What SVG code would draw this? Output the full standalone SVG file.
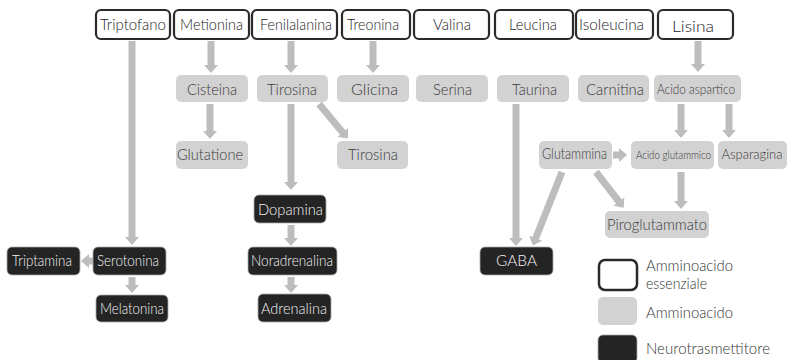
<svg xmlns="http://www.w3.org/2000/svg" width="789" height="360" viewBox="0 0 789 360">
<style>
text{font-family:Lato,"Open Sans","Liberation Sans",sans-serif;font-weight:300;font-size:16px;text-anchor:middle}
.ess rect{fill:#fff;stroke:#2a2a2a;stroke-width:2.2}
.ess text{fill:#222}
.aa rect{fill:#d2d2d2}
.aa text{fill:#3a3a3a}
.nt rect{fill:#242424;stroke:#aaa;stroke-width:0.8}
.nt text{fill:#f2f2f2}
.lg{text-anchor:start;fill:#333}
#connectors line{stroke:#bdbdbd;stroke-width:7;marker-end:url(#ah)}
</style>
<defs>
<marker id="ah" viewBox="0 0 8 14" refX="2" refY="7" markerUnits="userSpaceOnUse" markerWidth="8" markerHeight="14" orient="auto">
<path d="M0,0 L8,7 L0,14 z" fill="#bdbdbd"/>
</marker>
</defs>
<rect width="789" height="360" fill="#fff"/>
<g id="connectors">
<line x1="132" y1="41" x2="132" y2="239"/>
<line x1="211" y1="41" x2="211" y2="67"/>
<line x1="291" y1="41" x2="291" y2="67"/>
<line x1="373" y1="41" x2="373" y2="67"/>
<line x1="698" y1="41" x2="698" y2="66"/>
<line x1="210" y1="104" x2="210" y2="133"/>
<line x1="291" y1="104" x2="291" y2="184"/>
<line x1="319" y1="104" x2="344" y2="134"/>
<line x1="516" y1="104" x2="516" y2="240"/>
<line x1="681" y1="104" x2="681" y2="132"/>
<line x1="729" y1="104" x2="729" y2="132"/>
<line x1="613" y1="155" x2="621" y2="155"/>
<line x1="681" y1="172" x2="681" y2="203"/>
<line x1="596" y1="172" x2="620" y2="203"/>
<line x1="562" y1="172" x2="535" y2="240"/>
<line x1="93" y1="261" x2="87" y2="261"/>
<line x1="132" y1="277" x2="132" y2="287"/>
<line x1="291" y1="225" x2="291" y2="240"/>
<line x1="291" y1="277" x2="291" y2="287"/>
</g>
<g id="triptofano" class="ess"><rect x="96" y="10" width="74" height="29" rx="5"/><text x="133" y="30" textLength="66" lengthAdjust="spacingAndGlyphs">Triptofano</text></g>
<g id="metionina" class="ess"><rect x="174" y="10" width="75" height="29" rx="5"/><text x="211.5" y="30" textLength="63" lengthAdjust="spacingAndGlyphs">Metionina</text></g>
<g id="fenilalanina" class="ess"><rect x="252" y="10" width="85" height="29" rx="5"/><text x="296" y="30" textLength="72" lengthAdjust="spacingAndGlyphs">Fenilalanina</text></g>
<g id="treonina" class="ess"><rect x="342" y="10" width="68" height="29" rx="5"/><text x="373" y="30" textLength="52" lengthAdjust="spacingAndGlyphs">Treonina</text></g>
<g id="valina" class="ess"><rect x="414" y="10" width="75" height="29" rx="5"/><text x="452" y="30" textLength="38" lengthAdjust="spacingAndGlyphs">Valina</text></g>
<g id="leucina" class="ess"><rect x="495" y="10" width="78" height="29" rx="5"/><text x="533" y="30" textLength="48" lengthAdjust="spacingAndGlyphs">Leucina</text></g>
<g id="isoleucina" class="ess"><rect x="576" y="10" width="77" height="29" rx="5"/><text x="611.5" y="30" textLength="65" lengthAdjust="spacingAndGlyphs">Isoleucina</text></g>
<g id="lisina" class="ess"><rect x="658" y="10" width="75" height="29" rx="5"/><text x="693" y="32" textLength="42" lengthAdjust="spacingAndGlyphs">Lisina</text></g>
<g id="cisteina" class="aa"><rect x="176" y="75" width="72" height="27" rx="5"/><text x="212" y="95" textLength="50" lengthAdjust="spacingAndGlyphs">Cisteina</text></g>
<g id="tirosina" class="aa"><rect x="257" y="75" width="71" height="27" rx="5"/><text x="292" y="95" textLength="50" lengthAdjust="spacingAndGlyphs">Tirosina</text></g>
<g id="glicina" class="aa"><rect x="337" y="75" width="72" height="27" rx="5"/><text x="374.5" y="95" textLength="47" lengthAdjust="spacingAndGlyphs">Glicina</text></g>
<g id="serina" class="aa"><rect x="416" y="75" width="72" height="27" rx="5"/><text x="452.5" y="95" textLength="39" lengthAdjust="spacingAndGlyphs">Serina</text></g>
<g id="taurina" class="aa"><rect x="497" y="75" width="72" height="27" rx="5"/><text x="534.5" y="95" textLength="45" lengthAdjust="spacingAndGlyphs">Taurina</text></g>
<g id="carnitina" class="aa"><rect x="578" y="75" width="71" height="27" rx="5"/><text x="615" y="95" textLength="58" lengthAdjust="spacingAndGlyphs">Carnitina</text></g>
<g id="acido-aspartico" class="aa"><rect x="654" y="75" width="87" height="27" rx="5"/><text x="696" y="94" style="font-size:14px" textLength="78" lengthAdjust="spacingAndGlyphs">Acido aspartico</text></g>
<g id="glutatione" class="aa"><rect x="176" y="141" width="72" height="28" rx="5"/><text x="210" y="160" textLength="66" lengthAdjust="spacingAndGlyphs">Glutatione</text></g>
<g id="tirosina-2" class="aa"><rect x="337" y="141" width="71" height="28" rx="5"/><text x="373" y="160" textLength="50" lengthAdjust="spacingAndGlyphs">Tirosina</text></g>
<g id="glutammina" class="aa"><rect x="539" y="141" width="73" height="28" rx="5"/><text x="574.5" y="159" textLength="65" lengthAdjust="spacingAndGlyphs">Glutammina</text></g>
<g id="acido-glutammico" class="aa"><rect x="631" y="141" width="83" height="28" rx="5"/><text x="673.5" y="159" style="font-size:12px" textLength="75" lengthAdjust="spacingAndGlyphs">Acido glutammico</text></g>
<g id="asparagina" class="aa"><rect x="718" y="141" width="69" height="28" rx="5"/><text x="752" y="159" style="font-size:14px" textLength="61" lengthAdjust="spacingAndGlyphs">Asparagina</text></g>
<g id="piroglutammato" class="aa"><rect x="605" y="211" width="104" height="27" rx="5"/><text x="657" y="230" textLength="100" lengthAdjust="spacingAndGlyphs">Piroglutammato</text></g>
<g id="dopamina" class="nt"><rect x="254" y="195" width="72" height="28" rx="5"/><text x="290.5" y="215" textLength="65" lengthAdjust="spacingAndGlyphs">Dopamina</text></g>
<g id="noradrenalina" class="nt"><rect x="248" y="247" width="89" height="28" rx="5"/><text x="292" y="266" textLength="82" lengthAdjust="spacingAndGlyphs">Noradrenalina</text></g>
<g id="adrenalina" class="nt"><rect x="258" y="294" width="73" height="28" rx="5"/><text x="294" y="314" textLength="66" lengthAdjust="spacingAndGlyphs">Adrenalina</text></g>
<g id="triptamina" class="nt"><rect x="7" y="247" width="73" height="28" rx="5"/><text x="42" y="266" textLength="60" lengthAdjust="spacingAndGlyphs">Triptamina</text></g>
<g id="serotonina" class="nt"><rect x="93" y="247" width="73" height="28" rx="5"/><text x="128" y="266" textLength="62" lengthAdjust="spacingAndGlyphs">Serotonina</text></g>
<g id="melatonina" class="nt"><rect x="96" y="295" width="72" height="27" rx="5"/><text x="132" y="314" textLength="64" lengthAdjust="spacingAndGlyphs">Melatonina</text></g>
<g id="gaba" class="nt"><rect x="480" y="247" width="73" height="28" rx="5"/><text x="516.5" y="266" textLength="41" lengthAdjust="spacingAndGlyphs">GABA</text></g>
<g id="legend">
<g class="ess"><rect x="599" y="260" width="38" height="30" rx="6" style="stroke-width:2.5"/></g>
<text class="lg" x="646" y="271" textLength="87" lengthAdjust="spacingAndGlyphs">Amminoacido</text>
<text class="lg" x="646" y="289" textLength="61" lengthAdjust="spacingAndGlyphs">essenziale</text>
<g class="aa"><rect x="598" y="297" width="39" height="28" rx="5"/></g>
<text class="lg" x="646" y="318" textLength="87" lengthAdjust="spacingAndGlyphs">Amminoacido</text>
<g class="nt"><rect x="598" y="335" width="39" height="28" rx="5"/></g>
<text class="lg" x="646" y="354" textLength="124" lengthAdjust="spacingAndGlyphs">Neurotrasmettitore</text>
</g>
</svg>
